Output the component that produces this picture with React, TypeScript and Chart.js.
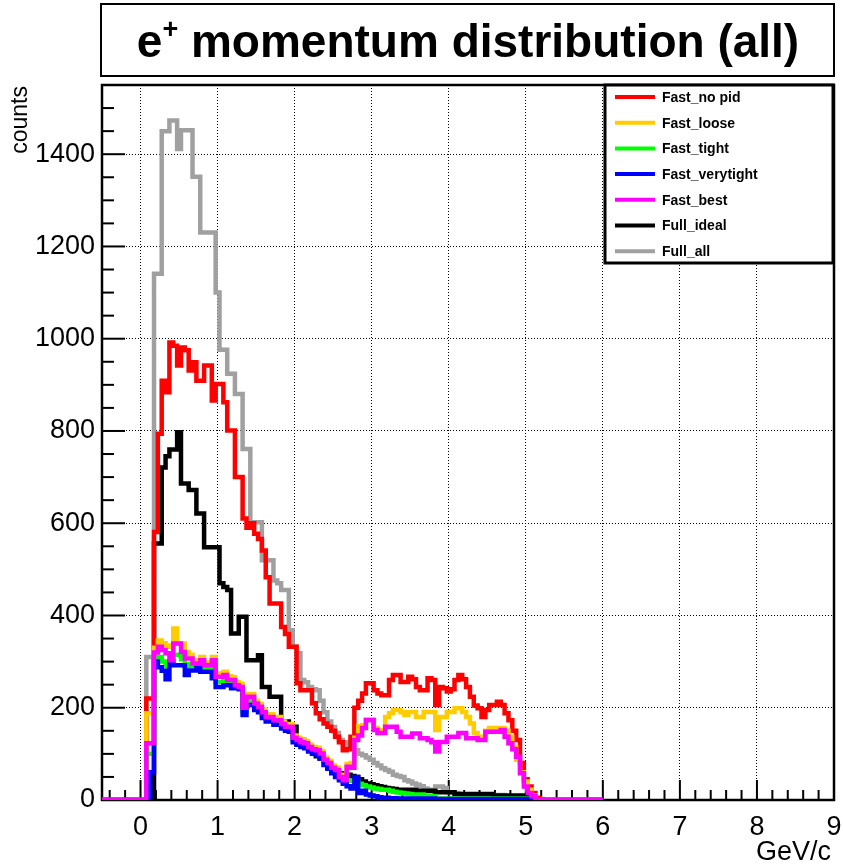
import React, { useEffect, useRef } from 'react';
import { Chart, registerables } from 'chart.js';

Chart.register(...registerables);

// ---- axis setup ----
const X_MIN = -0.5;
const X_MAX = 9;
const Y_MIN = 0;
const Y_MAX = 1550;
const BIN_WIDTH = 0.05;
const FIRST_BIN = 0.075;
const HIST_END = 6;

const xTickValues = [0, 1, 2, 3, 4, 5, 6, 7, 8, 9];
const xTickLabels = ['0', '1', '2', '3', '4', '5', '6', '7', '8', '9'];
const yTickValues = [0, 200, 400, 600, 800, 1000, 1200, 1400];
const yTickLabels = ['0', '200', '400', '600', '800', '1000', '1200', '1400'];

const seriesNames = ['Fast_no pid', 'Fast_loose', 'Fast_tight', 'Fast_verytight', 'Fast_best', 'Full_ideal', 'Full_all'];
const seriesColors = ['#ff0000', '#ffcc00', '#00ff00', '#0000ff', '#ff00ff', '#000000', '#a0a0a0'];
// lower = drawn on top
const seriesDrawOrder = [4, 3, 2, 1, 0, 5, 6];

// ---- bin contents, bins of 0.05 GeV/c starting at FIRST_BIN ----
const fastNoPid = [
  220, 220, 581, 794, 909, 884, 992, 985, 942, 981,
  975, 931, 949, 909, 909, 942, 942, 866, 902, 902,
  862, 801, 801, 700, 700, 610, 590, 600, 577, 566,
  541, 483, 426, 426, 426, 375, 360, 332, 332, 253,
  238, 238, 238, 210, 188, 175, 166, 159, 150, 137,
  125, 108, 110, 137, 200, 215, 231, 253, 253, 238,
  231, 227, 227, 260, 271, 271, 256, 256, 267, 262,
  245, 238, 238, 264, 260, 206, 245, 242, 235, 240,
  260, 271, 262, 245, 224, 205, 199, 180, 195, 206,
  206, 213, 206, 188, 173, 150, 130, 80, 45, 29,
  15, 5,
];

const fastLoose = [
  188, 188, 330, 346, 340, 335, 332, 372, 339, 339,
  321, 315, 303, 303, 310, 298, 298, 310, 275, 275,
  278, 268, 266, 256, 252, 210, 230, 230, 215, 208,
  196, 186, 186, 180, 180, 170, 165, 165, 140, 135,
  130, 128, 120, 115, 113, 106, 92, 85, 75, 70,
  55, 50, 78, 80, 135, 160, 162, 175, 175, 156,
  152, 152, 180, 188, 195, 195, 190, 184, 191, 191,
  180, 180, 191, 191, 191, 152, 180, 180, 191, 191,
  199, 199, 191, 180, 166, 145, 137, 137, 150, 156,
  156, 156, 156, 150, 137, 115, 87, 60, 40, 22,
  10,
];

const fastTight = [
  100, 100, 310, 310, 300, 290, 300, 315, 315, 305,
  290, 295, 290, 290, 290, 285, 285, 283, 256, 256,
  260, 255, 250, 245, 243, 192, 215, 215, 202, 196,
  184, 175, 175, 168, 168, 160, 155, 153, 130, 125,
  120, 117, 110, 105, 103, 96, 82, 74, 64, 57,
  47, 40, 42, 43, 42, 35, 32, 29, 27, 25,
  24, 22, 22, 20, 18, 16, 15, 14, 13, 12,
  12, 12, 10, 10, 8, 3, 3, 3, 3, 3,
  3, 3, 3, 3, 3, 3, 3, 3, 3, 3,
  3, 3, 3, 3, 3, 3, 3, 3, 3, 3,
];

const fastVerytight = [
  0, 60, 300, 288, 280, 262, 300, 292, 292, 292,
  271, 281, 281, 286, 278, 278, 278, 264, 245, 245,
  249, 249, 242, 242, 240, 184, 206, 206, 195, 190,
  178, 170, 170, 163, 163, 155, 150, 148, 125, 120,
  115, 112, 105, 100, 98, 90, 76, 68, 58, 50,
  43, 35, 30, 25, 50, 15, 20, 12, 10, 8,
  6, 5, 5, 4, 4, 3, 3, 3, 3, 3,
  3, 3, 3, 3, 3, 2, 2, 2, 2, 2,
  2, 2, 2, 2, 2, 2, 2, 2, 2, 2,
  2, 2, 2, 2, 2, 2, 2, 2, 2, 2,
  2,
];

const fastBest = [
  123, 123, 320, 332, 325, 318, 303, 339, 339, 321,
  307, 307, 296, 296, 303, 292, 292, 303, 267, 267,
  271, 260, 260, 249, 245, 200, 224, 224, 209, 202,
  190, 180, 180, 173, 173, 165, 159, 159, 135, 130,
  125, 123, 115, 110, 108, 101, 87, 80, 70, 65,
  50, 43, 72, 70, 130, 140, 156, 173, 173, 152,
  145, 145, 159, 159, 159, 148, 137, 137, 137, 144,
  144, 134, 134, 130, 125, 105, 126, 126, 137, 137,
  137, 145, 145, 134, 134, 134, 130, 130, 148, 148,
  148, 148, 152, 137, 123, 110, 94, 58, 29, 15,
  8,
];

const fullIdeal = [
  0, 0, 556, 556, 721, 745, 760, 760, 797, 686,
  686, 672, 672, 621, 621, 548, 548, 548, 548, 470,
  462, 455, 361, 361, 397, 397, 303, 303, 303, 314,
  245, 245, 224, 224, 224, 170, 170, 159, 159, 130,
  130, 115, 110, 108, 95, 90, 85, 70, 65, 62,
  58, 55, 55, 52, 50, 45, 40, 36, 34, 32,
  30, 28, 26, 25, 24, 22, 22, 22, 22, 22,
  20, 20, 20, 20, 20, 17, 17, 17, 17, 17,
  13, 13, 13, 13, 13, 13, 13, 13, 13, 13,
  10, 10, 10, 10, 10, 10, 10, 10, 10, 10,
  5,
];

const fullAll = [
  310, 310, 1141, 1141, 1450, 1450, 1473, 1473, 1411, 1452,
  1452, 1452, 1351, 1351, 1230, 1230, 1230, 1230, 1100, 976,
  976, 924, 924, 880, 880, 761, 761, 602, 602, 602,
  520, 520, 520, 476, 470, 455, 455, 368, 332, 318,
  260, 255, 245, 240, 238, 215, 190, 170, 158, 145,
  130, 125, 120, 115, 108, 100, 97, 92, 87, 80,
  75, 69, 65, 61, 55, 52, 50, 43, 40, 36,
  33, 30, 25, 22, 22, 29, 29, 26, 17, 17,
  15, 13, 12, 12, 11, 11, 11, 11, 11, 11,
  11, 11, 11, 8, 8, 8, 8, 8, 8, 8,
  8, 4, 2,
];

const seriesValues = [fastNoPid, fastLoose, fastTight, fastVerytight, fastBest, fullIdeal, fullAll];

const FONT = "'Liberation Sans', Arial, Helvetica, sans-serif";

function histPoints(values: number[]) {
  const pts: { x: number; y: number }[] = [{ x: X_MIN, y: 0 }];
  values.forEach((v, i) => {
    pts.push({ x: +(FIRST_BIN + i * BIN_WIDTH).toFixed(4), y: v });
  });
  pts.push({ x: +(FIRST_BIN + values.length * BIN_WIDTH).toFixed(4), y: 0 });
  pts.push({ x: HIST_END, y: 0 });
  return pts;
}

const rootStyle = {
  id: 'rootStyle',
  beforeDatasetsDraw(chart: any) {
    const { ctx, chartArea: a, scales } = chart;
    const xs = scales.x;
    const ys = scales.y;
    ctx.save();
    ctx.strokeStyle = '#000';
    ctx.lineWidth = 2;
    ctx.setLineDash([]);
    // x ticks: minor every 0.2, major every 1
    for (let k = -2; k <= 45; k++) {
      const v = k * 0.2;
      if (v <= X_MIN || v >= X_MAX) continue;
      const px = xs.getPixelForValue(v);
      const len = k % 5 === 0 ? 20 : 10;
      ctx.beginPath();
      ctx.moveTo(px, a.bottom);
      ctx.lineTo(px, a.bottom - len);
      ctx.stroke();
    }
    // y ticks: minor every 50, major every 200
    for (let c = 50; c < Y_MAX; c += 50) {
      const py = ys.getPixelForValue(c);
      const len = c % 200 === 0 ? 23 : 12;
      ctx.beginPath();
      ctx.moveTo(a.left, py);
      ctx.lineTo(a.left + len, py);
      ctx.stroke();
    }
    ctx.lineWidth = 2.5;
    ctx.strokeRect(a.left, a.top, a.right - a.left, a.bottom - a.top);
    ctx.restore();
  },
  afterDraw(chart: any) {
    const { ctx, chartArea: a, scales } = chart;
    const xs = scales.x;
    const ys = scales.y;
    ctx.save();
    ctx.fillStyle = '#000';
    // tick labels
    ctx.font = `27px ${FONT}`;
    ctx.textAlign = 'center';
    ctx.textBaseline = 'middle';
    xTickValues.forEach((v, i) => {
      ctx.fillText(xTickLabels[i], xs.getPixelForValue(v), a.bottom + 28);
    });
    ctx.textAlign = 'right';
    yTickValues.forEach((v, i) => {
      ctx.fillText(yTickLabels[i], a.left - 7, ys.getPixelForValue(v));
    });
    // axis titles
    ctx.textAlign = 'right';
    ctx.fillText('GeV/c', a.right - 3, a.bottom + 53);
    ctx.save();
    ctx.translate(21, a.top + 1);
    ctx.rotate(-Math.PI / 2);
    ctx.font = `23px ${FONT}`;
    ctx.textAlign = 'right';
    ctx.textBaseline = 'middle';
    ctx.fillText('counts', 0, 0);
    ctx.restore();

    // title box
    ctx.fillStyle = '#fff';
    ctx.fillRect(101, 4, 733, 72);
    ctx.strokeStyle = '#000';
    ctx.lineWidth = 2;
    ctx.strokeRect(101, 4, 733, 72);
    ctx.fillStyle = '#000';
    const main = `bold 46px ${FONT}`;
    const sup = `bold 27px ${FONT}`;
    ctx.font = main;
    const wE = ctx.measureText('e').width;
    const rest = ' momentum distribution (all)';
    const wRest = ctx.measureText(rest).width;
    ctx.font = sup;
    const wSup = ctx.measureText('+').width;
    const total = wE + wSup + wRest;
    let tx = 468 - total / 2;
    ctx.textAlign = 'left';
    ctx.textBaseline = 'alphabetic';
    ctx.font = main;
    ctx.fillText('e', tx, 57);
    tx += wE;
    ctx.font = sup;
    ctx.fillText('+', tx, 38);
    tx += wSup;
    ctx.font = main;
    ctx.fillText(rest, tx, 57);

    // legend box
    const lx = 605, ly = 85, lw = 228, lh = 178;
    ctx.fillStyle = '#fff';
    ctx.fillRect(lx, ly, lw, lh);
    ctx.lineWidth = 3;
    ctx.strokeRect(lx, ly, lw, lh);
    ctx.font = `bold 14px ${FONT}`;
    ctx.textBaseline = 'middle';
    ctx.textAlign = 'left';
    seriesNames.forEach((name, i) => {
      const y = ly + 12 + i * 25.7;
      ctx.strokeStyle = seriesColors[i];
      ctx.lineWidth = 4;
      ctx.beginPath();
      ctx.moveTo(lx + 10, y);
      ctx.lineTo(lx + 50, y);
      ctx.stroke();
      ctx.fillStyle = '#000';
      ctx.fillText(name, lx + 57, y + 1);
    });
    ctx.restore();
  },
};

export default function App() {
  const canvasRef = useRef<HTMLCanvasElement | null>(null);

  useEffect(() => {
    if (!canvasRef.current) return;
    const datasets = seriesNames.map((name, i) => ({
      label: name,
      data: histPoints(seriesValues[i]),
      borderColor: seriesColors[i],
      backgroundColor: seriesColors[i],
      borderWidth: 4.5,
      pointRadius: 0,
      fill: false,
      stepped: true,
      tension: 0,
      order: seriesDrawOrder[i],
      borderJoinStyle: 'miter' as const,
    }));
    const gridOpts = { color: '#000', lineWidth: 1, drawTicks: false };
    const chart = new Chart(canvasRef.current, {
      type: 'line',
      data: { datasets },
      options: {
        animation: false,
        responsive: false,
        events: [],
        layout: { padding: { left: 102, top: 85, right: 9, bottom: 68 } },
        plugins: {
          legend: { display: false },
          title: { display: false },
          tooltip: { enabled: false },
        },
        scales: {
          x: {
            type: 'linear',
            min: X_MIN,
            max: X_MAX,
            afterFit: (s: any) => { s.height = 0; },
            ticks: { display: false, stepSize: 1, includeBounds: false },
            grid: gridOpts,
            border: { display: false, dash: [1, 2] },
          },
          y: {
            type: 'linear',
            min: Y_MIN,
            max: Y_MAX,
            afterFit: (s: any) => { s.width = 0; },
            ticks: { display: false, stepSize: 200, includeBounds: false },
            grid: gridOpts,
            border: { display: false, dash: [1, 2] },
          },
        },
      },
      plugins: [rootStyle],
    } as any);
    return () => chart.destroy();
  }, []);

  return (
    <div style={{ position: 'absolute', left: 0, top: 0, width: 843, height: 868, background: '#fff' }}>
      <canvas ref={canvasRef} width={843} height={868} style={{ display: 'block' }} />
    </div>
  );
}
